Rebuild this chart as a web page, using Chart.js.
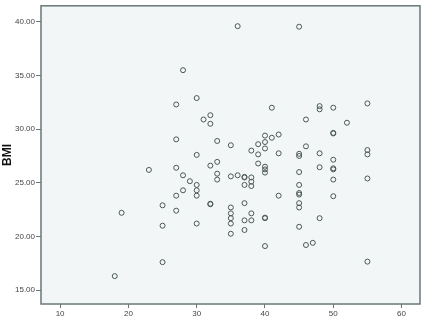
<!DOCTYPE html>
<html>
<head>
<meta charset="utf-8">
<script src="https://cdn.jsdelivr.net/npm/chart.js@4"></script>
<style>
  body { margin: 0; background: #fff; }
  #wrap { width: 424px; height: 320px; }
</style>
</head>
<body>
<div id="wrap"><canvas id="bmi" width="424" height="320"></canvas></div>
<script>
// age (x) and BMI (y), one entry per respondent
const ageValues = [
  18, 19, 23, 25, 25, 25,
  27, 27, 27, 27, 27, 28, 28, 28, 29,
  30, 30, 30, 30, 30, 30, 31, 32, 32, 32, 32, 32,
  33, 33, 33, 33,
  35, 35, 35, 35, 35, 35, 35, 36, 36,
  37, 37, 37, 37, 37, 37, 38, 38, 38, 38, 38, 38,
  39, 39, 39,
  40, 40, 40, 40, 40, 40, 40, 40, 40, 41, 41, 42, 42, 42,
  45, 45, 45, 45, 45, 45, 45, 45, 45, 45,
  46, 46, 46, 47, 48, 48, 48, 48, 48,
  50, 50, 50, 50, 50, 50, 50, 50, 52,
  55, 55, 55, 55, 55
]
const bmiValues = [
  16.3, 22.2, 26.2, 22.9, 21.0, 17.6,
  32.3, 29.05, 26.4, 23.8, 22.4, 35.5, 25.7, 24.3, 25.15,
  32.9, 27.6, 24.8, 24.3, 23.8, 21.2, 30.9, 31.3, 30.5, 26.6, 23.0, 23.05,
  28.9, 26.95, 25.85, 25.3,
  28.5, 25.6, 22.7, 22.15, 21.7, 21.2, 20.25, 39.6, 25.7,
  25.5, 25.55, 24.8, 23.1, 21.5, 20.6, 28.0, 25.5, 25.1, 24.7, 22.15, 21.5,
  28.6, 27.65, 26.8,
  29.4, 28.8, 28.2, 26.5, 26.25, 25.95, 21.7, 21.75, 19.1, 32.0, 29.2, 29.5, 27.75, 23.8,
  39.55, 27.7, 27.5, 26.0, 24.8, 24.05, 23.9, 23.1, 22.7, 20.9,
  30.9, 28.4, 19.2, 19.4, 32.15, 31.85, 27.75, 26.45, 21.7,
  32.0, 29.6, 29.65, 27.15, 26.35, 26.25, 25.3, 23.75, 30.6,
  32.4, 28.05, 27.65, 25.4, 17.65
]
const xTicks = [10, 20, 30, 40, 50, 60]
const yTicks = [15, 20, 25, 30, 35, 40]

const points = ageValues.map((a, i) => ({ x: a, y: bmiValues[i] }))

// plot frame: pale fill behind the points, grey box around them
const frame = {
  id: 'frame',
  beforeDatasetsDraw(chart) {
    const { ctx, chartArea: a } = chart
    ctx.save()
    ctx.fillStyle = '#f3f6f6'
    ctx.fillRect(a.left, a.top, a.right - a.left, a.bottom - a.top)
    ctx.restore()
  },
  afterDatasetsDraw(chart) {
    const { ctx, chartArea: a } = chart
    ctx.save()
    ctx.strokeStyle = '#6b7777'
    ctx.lineWidth = 1.5
    ctx.strokeRect(a.left, a.top, a.right - a.left, a.bottom - a.top)
    ctx.restore()
  }
}

const tickFont = { family: 'Liberation Sans, Arial, sans-serif', size: 8 }

new Chart(document.getElementById('bmi'), {
  type: 'scatter',
  data: {
    datasets: [{
      label: 'BMI',
      data: points,
      pointRadius: 2.5,
      pointHoverRadius: 2.5,
      pointBorderWidth: 1,
      borderColor: '#4c5858',
      backgroundColor: 'rgba(0,0,0,0)'
    }]
  },
  options: {
    responsive: false,
    animation: false,
    layout: { padding: { top: 4, right: 4, left: 0, bottom: 0 } },
    plugins: {
      legend: { display: false },
      tooltip: { enabled: false }
    },
    scales: {
      x: {
        type: 'linear',
        min: 7.2,
        max: 62.7,
        afterBuildTicks: s => { s.ticks = xTicks.map(v => ({ value: v })) },
        afterFit: s => { s.height = 16 },
        grid: { drawOnChartArea: false, drawTicks: true, tickLength: 4, color: '#6b7777' },
        border: { display: false },
        ticks: { font: tickFont, color: '#444', padding: 1, maxRotation: 0 }
      },
      y: {
        type: 'linear',
        min: 13.7,
        max: 41.5,
        afterBuildTicks: s => { s.ticks = yTicks.map(v => ({ value: v })) },
        afterFit: s => { s.width = 41 },
        grid: { drawOnChartArea: false, drawTicks: true, tickLength: 5, color: '#6b7777' },
        border: { display: false },
        ticks: { font: tickFont, color: '#444', padding: 1, callback: v => v.toFixed(2) },
        title: {
          display: true,
          text: 'BMI',
          color: '#111',
          font: { family: 'Liberation Sans, Arial, sans-serif', size: 12, weight: 'bold' },
          padding: { top: 0, bottom: 0 }
        }
      }
    }
  },
  plugins: [frame]
})
</script>
</body>
</html>
